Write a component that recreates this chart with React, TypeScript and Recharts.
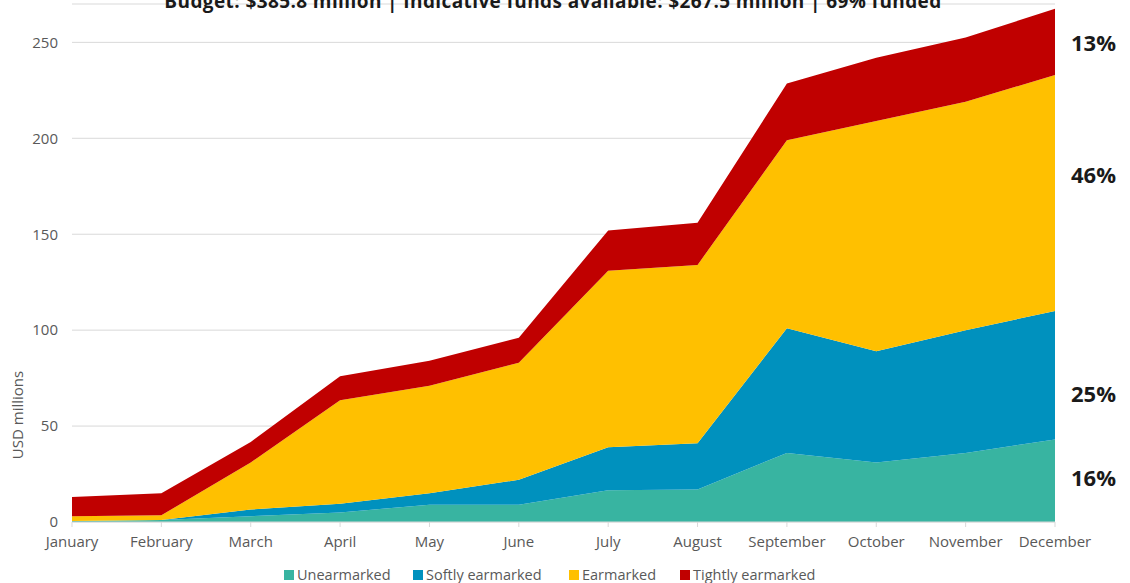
import React from "react";
import { AreaChart, Area, XAxis, YAxis, CartesianGrid } from "recharts";

const months = ["January", "February", "March", "April", "May", "June", "July", "August", "September", "October", "November", "December"];
const unearmarked = [0.5, 1, 3, 5, 9, 9, 16.5, 17, 36, 31, 36, 43];
const softlyEarmarked = [0, 0, 3.5, 4.5, 6, 13, 22.5, 24, 65, 58, 64, 67];
const earmarked = [2.5, 2.5, 24.5, 54, 56, 61, 92, 93, 98, 120, 119, 123];
const tightlyEarmarked = [10, 11.5, 10.7, 12.5, 13, 13, 21, 22, 29.6, 33, 33.6, 34.5];
const yTicks = [0, 50, 100, 150, 200, 250];
const shareLabels = ["16%", "25%", "46%", "13%"];
const seriesNames = ["Unearmarked", "Softly earmarked", "Earmarked", "Tightly earmarked"];
const seriesKeys = ["unearmarked", "softly", "earmarked", "tightly"];
const colors = ["#38B4A1", "#0091BE", "#FFC000", "#C00000"];
const title = "Budget: $385.8 million | Indicative funds available: $267.5 million | 69% funded";

const data = months.map((m, i) => ({
  month: m,
  unearmarked: unearmarked[i],
  softly: softlyEarmarked[i],
  earmarked: earmarked[i],
  tightly: tightlyEarmarked[i],
}));

const FONT = "'Open Sans', sans-serif";
const shareY = [477, 393, 174, 42];
const legendX = [284, 413, 569, 680];

export default function App() {
  return (
    <div style={{ position: "absolute", left: 0, top: 0, width: 1130, height: 583, background: "#fff", overflow: "hidden", fontFamily: FONT }}>
      <AreaChart width={1130} height={583} data={data} margin={{ top: 4, right: 75, bottom: 31, left: 12 }}>
        <CartesianGrid horizontal={true} vertical={false} stroke="#d9d9d9" strokeWidth={1} />
        <XAxis
          dataKey="month"
          height={30}
          stroke="#d9d9d9"
          tickSize={5}
          tickMargin={9}
          tick={{ fill: "#595959", fontSize: 15, fontFamily: FONT }}
          interval={0}
        />
        <YAxis
          width={60}
          domain={[0, 270]}
          ticks={yTicks}
          axisLine={false}
          tickLine={false}
          tickSize={6}
          tickMargin={8}
          tick={{ fill: "#595959", fontSize: 15, fontFamily: FONT }}
          allowDataOverflow={true}
        />
        {seriesKeys.map((k, i) => (
          <Area
            key={k}
            type="linear"
            dataKey={k}
            name={seriesNames[i]}
            stackId="1"
            stroke="none"
            fill={colors[i]}
            fillOpacity={1}
            isAnimationActive={false}
            dot={false}
            activeDot={false}
          />
        ))}
      </AreaChart>
      <svg width={1130} height={583} style={{ position: "absolute", left: 0, top: 0, pointerEvents: "none" }}>
        <text x={553} y={8} textAnchor="middle" fontFamily={FONT} fontWeight={700} fontSize={19} letterSpacing={0.4} fill="#1a1a1a">
          {title}
        </text>
        <text
          x={0}
          y={0}
          transform="translate(23,415) rotate(-90)"
          textAnchor="middle"
          fontFamily={FONT}
          fontSize={15}
          fill="#595959"
        >
          USD millions
        </text>
        {shareLabels.map((s, i) => (
          <text key={s + i} x={1071} y={shareY[i]} dominantBaseline="central" fontFamily={FONT} fontWeight={700} fontSize={22} fill="#1a1a1a">
            {s}
          </text>
        ))}
        {seriesNames.map((n, i) => (
          <g key={n}>
            <rect x={legendX[i]} y={570} width={10} height={10} fill={colors[i]} />
            <text x={legendX[i] + 13} y={580} fontFamily={FONT} fontSize={14.5} fill="#595959">
              {n}
            </text>
          </g>
        ))}
      </svg>
    </div>
  );
}
